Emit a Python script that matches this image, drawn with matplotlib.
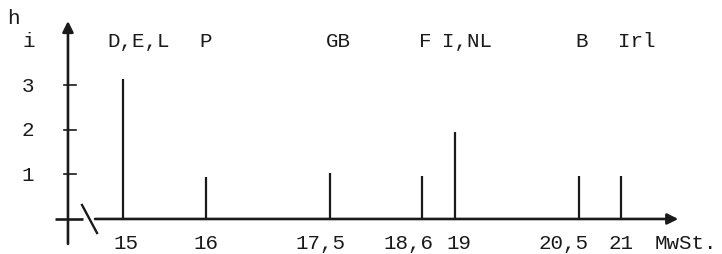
import matplotlib.pyplot as plt
from matplotlib.transforms import offset_copy

# VAT rates (MwSt.) and how many countries use each rate
rates = [15, 16, 17.5, 18.6, 19, 20.5, 21]
counts = [3.15, 0.95, 1.03, 0.97, 1.96, 0.97, 0.97]
rate_labels = ["15", "16", "17,5", "18,6", "19", "20,5", "21"]
countries = ["D,E,L", "P", "GB", "F", "I,NL", "B", "Irl"]
y_ticks = [1, 2, 3]

# small pixel nudges so labels sit as in the original typed figure
rate_dx = [3, 0, -10, -13, 4, -16, 0]
country_dx = [16, 0, 8, 3, 12, 2, 16]

ink = "#1a1a1a"
font = dict(family="Liberation Mono", size=15, color=ink)

fig = plt.figure(figsize=(7.22, 2.55), dpi=100)
ax = fig.add_axes([0, 0, 1, 1])
ax.set_xlim(13.518, 22.217)
ax.set_ylim(-0.787, 4.944)
ax.axis("off")

y_axis_x = 14.337

# bars
ax.vlines(rates, 0, counts, color=ink, lw=1.6)

# x axis with a break near the origin
ax.plot([14.18, 14.518], [0, 0], color=ink, lw=1.9, solid_capstyle="butt")
ax.annotate("", xy=(21.69, 0), xytext=(14.663, 0),
            arrowprops=dict(arrowstyle="-|>", lw=1.9, color=ink, mutation_scale=16,
                            shrinkA=0, shrinkB=0))
ax.plot([14.506, 14.687], [0.315, -0.315], color=ink, lw=1.7)

# y axis
ax.annotate("", xy=(y_axis_x, 4.45), xytext=(y_axis_x, -0.56),
            arrowprops=dict(arrowstyle="-|>", lw=1.9, color=ink, mutation_scale=16,
                            shrinkA=0, shrinkB=0))
for t in y_ticks:
    ax.plot([14.29, 14.43], [t, t], color=ink, lw=1.2)
    ax.text(13.855, t, str(t), ha="center", va="center", **font)

ax.text(13.685, 4.52, "h", ha="center", va="center", **font)
ax.text(13.865, 4.02, "i", ha="center", va="center", **font)

for x, lab, dx in zip(rates, rate_labels, rate_dx):
    tr = offset_copy(ax.transData, fig=fig, x=dx, y=0, units="dots")
    ax.text(x, -0.53, lab, ha="center", va="center", transform=tr, **font)

for x, lab, dx in zip(rates, countries, country_dx):
    tr = offset_copy(ax.transData, fig=fig, x=dx, y=0, units="dots")
    ax.text(x, 4.02, lab, ha="center", va="center", transform=tr, **font)

ax.text(22.16, -0.53, "MwSt.", ha="right", va="center", **font)

fig.savefig("out.png", dpi=100, facecolor="white")
